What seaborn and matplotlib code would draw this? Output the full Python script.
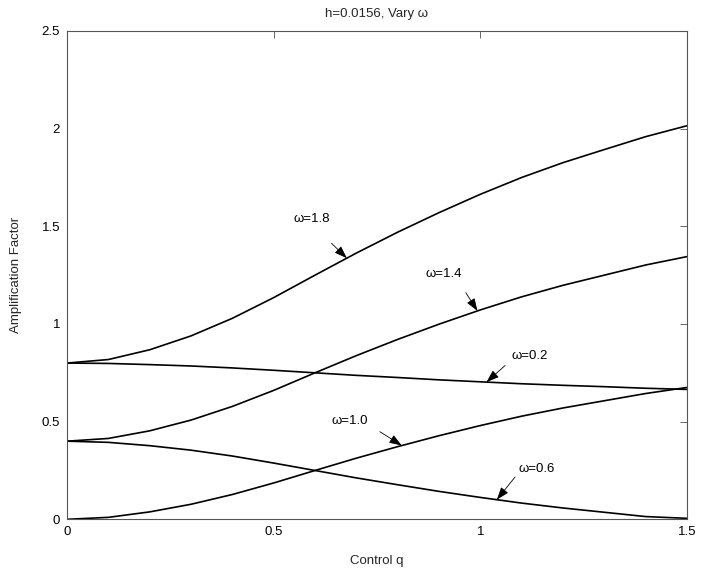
import matplotlib
matplotlib.use("Agg")
import matplotlib.pyplot as plt
import numpy as np
import pandas as pd
import seaborn as sns

# Control parameter q
q = [0.0, 0.1, 0.2, 0.3, 0.4, 0.5, 0.6, 0.7, 0.8, 0.9, 1.0, 1.1, 1.2, 1.3, 1.4, 1.5]

# Amplification factor for each relaxation weight omega
amp_w02 = [0.800, 0.798, 0.792, 0.785, 0.775, 0.763, 0.750, 0.737, 0.726, 0.714,
           0.704, 0.694, 0.686, 0.679, 0.671, 0.665]
amp_w06 = [0.400, 0.394, 0.377, 0.354, 0.324, 0.288, 0.250, 0.212, 0.177, 0.143,
           0.112, 0.083, 0.058, 0.036, 0.014, 0.005]
amp_w10 = [0.000, 0.010, 0.038, 0.077, 0.127, 0.186, 0.250, 0.313, 0.372, 0.428,
           0.480, 0.528, 0.570, 0.607, 0.644, 0.675]
amp_w14 = [0.400, 0.414, 0.453, 0.508, 0.578, 0.660, 0.750, 0.838, 0.921, 0.999,
           1.072, 1.139, 1.198, 1.250, 1.302, 1.345]
amp_w18 = [0.800, 0.818, 0.868, 0.939, 1.029, 1.135, 1.250, 1.363, 1.470, 1.570,
           1.664, 1.750, 1.826, 1.893, 1.959, 2.015]

omega_labels = ["ω=0.2", "ω=0.6", "ω=1.0", "ω=1.4", "ω=1.8"]
series = [amp_w02, amp_w06, amp_w10, amp_w14, amp_w18]

df = pd.concat(
    [pd.DataFrame({"q": q, "amp": s, "omega": lab}) for lab, s in zip(omega_labels, series)],
    ignore_index=True,
)

sns.set_theme(style="white")
plt.rcParams["font.family"] = ["Liberation Sans", "DejaVu Sans"]

fig = plt.figure(figsize=(7.01, 5.73), dpi=100)
ax = fig.add_axes([0.0956, 0.0937, 0.8844, 0.8522])

sns.lineplot(data=df, x="q", y="amp", hue="omega", palette=["black"] * 5,
             legend=False, linewidth=1.2, estimator=None, sort=False, ax=ax)

ax.set_xlim(0, 1.5)
ax.set_ylim(0, 2.5)
ax.set_xticks([0, 0.5, 1, 1.5])
ax.set_xticklabels(["0", "0.5", "1", "1.5"])
ax.set_yticks([0, 0.5, 1, 1.5, 2, 2.5])
ax.set_yticklabels(["0", "0.5", "1", "1.5", "2", "2.5"])
ax.tick_params(direction="in", top=True, right=True, length=5, width=0.7,
               color="#666666", labelsize=9.5, pad=5, labelcolor="black")
for sp in ax.spines.values():
    sp.set_color("#555555")
    sp.set_linewidth(0.8)

ax.set_xlabel("Control q", fontsize=9.5, labelpad=12)
ax.set_ylabel("Amplification Factor", fontsize=9.5, labelpad=14)
ax.set_title("h=0.0156, Vary ω", fontsize=9.5, pad=10)

# Curve labels with arrows pointing onto each curve:
# (series, label, arrow tip q, tail dq, tail dy, label position)
notes = [
    (amp_w18, "ω=1.8", 0.677, -0.037, 0.076, (0.592, 1.536)),
    (amp_w14, "ω=1.4", 0.993, -0.028, 0.093, (0.911, 1.255)),
    (amp_w02, "ω=0.2", 1.015, 0.045, 0.085, (1.120, 0.835)),
    (amp_w10, "ω=1.0", 0.810, -0.053, 0.071, (0.685, 0.502)),
    (amp_w06, "ω=0.6", 1.040, 0.044, 0.116, (1.136, 0.257)),
]
for s, lab, tq, dq, dy, (lx, ly) in notes:
    ty = float(np.interp(tq, q, s))
    ax.annotate("", xy=(tq, ty), xytext=(tq + dq, ty + dy),
                arrowprops=dict(arrowstyle="-|>,head_length=0.7,head_width=0.25",
                                color="black", lw=0.6, mutation_scale=11,
                                shrinkA=0, shrinkB=0))
    ax.text(lx, ly, lab, fontsize=9.5, ha="center", va="center", color="black")

fig.savefig("out.png", dpi=100)
